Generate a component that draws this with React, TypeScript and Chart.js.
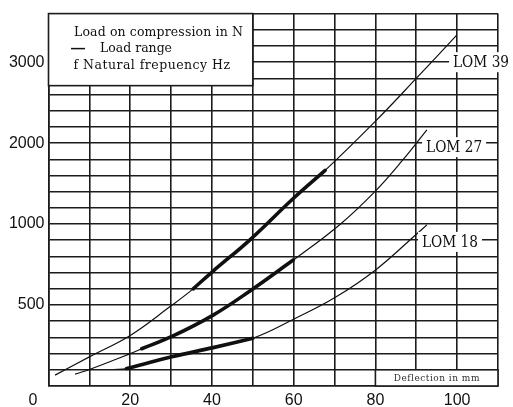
import React, { useEffect, useRef } from 'react';
import { Chart, registerables, LinearScale } from 'chart.js';

Chart.register(...registerables);

// ---- data (deflection in mm, load in N) ----
const X_LABELED = [0, 20, 40, 60, 80, 100];
const Y_TICKS = [0, 100, 200, 300, 400, 500, 600, 700, 800, 900, 1000, 1200, 1400, 1600, 1800, 2000, 2200, 2400, 2600, 2800, 3000, 3200, 3400, 3600];
const Y_LABELED = [500, 1000, 2000, 3000];

const LOM39_X = [1.6, 10, 20, 30, 35.4, 40.3, 49.3, 59.9, 67.7, 79.9, 90.1, 99.9];
const LOM39_Y = [67, 180, 312, 495, 600, 710, 903, 1316, 1663, 2265, 2805, 3334];
const LOM39_RANGE_X = [35.4, 40.3, 49.3, 59.9, 67.7];
const LOM39_RANGE_Y = [600, 710, 903, 1316, 1663];

const LOM27_X = [6.5, 10, 20, 22.8, 30.2, 40.3, 49.3, 61.2, 71.4, 79.8, 86.5, 92.6];
const LOM27_Y = [73, 102, 200, 230, 306, 438, 587, 801, 999, 1398, 1780, 2165];
const LOM27_RANGE_X = [22.8, 30.2, 40.3, 49.3, 59.9];
const LOM27_RANGE_Y = [230, 306, 438, 587, 778];

const LOM18_X = [15.9, 19.1, 30.2, 40.3, 50, 60.1, 70.1, 80.2, 90.1, 92.6];
const LOM18_Y = [102, 108, 180, 237, 295, 414, 546, 720, 939, 995];
const LOM18_RANGE_X = [19.1, 30.2, 40.3, 50];
const LOM18_RANGE_Y = [108, 180, 237, 295];

const SERIES_NAMES = ['LOM 39', 'LOM 27', 'LOM 18'];
const LABEL_POS_X = [99, 92.4, 91.4];
const LABEL_POS_Y = [3000, 1950, 890];

const LEGEND_LINES = ['Load on compression in N', 'Load range', 'f Natural frepuency Hz'];
const X_TITLE = 'Deflection in mm';

// ---- styling ----
const GRID = '#1c1c1c';
const INK = '#111111';
const SERIF = '"DejaVu Serif", serif';

// piecewise y scale: 100 N per division up to 1000, 200 N per division above
const toDiv = (v: number) => (v <= 1000 ? v / 100 : 10 + (v - 1000) / 200);
const fromDiv = (d: number) => (d <= 10 ? d * 100 : 1000 + (d - 10) * 200);

class PiecewiseScale extends LinearScale {
  static id = 'piecewise';
  static defaults = {};
  buildTicks() {
    (this as any).start = this.min;
    (this as any).end = this.max;
    return Y_TICKS.filter((v) => v >= this.min && v <= this.max).map((v) => ({ value: v }));
  }
  getPixelForValue(value: number) {
    if (value === null || value === undefined || isNaN(value)) return NaN;
    return this.getPixelForDecimal((toDiv(value) - toDiv(this.min)) / (toDiv(this.max) - toDiv(this.min)));
  }
  getValueForPixel(pixel: number) {
    const d = this.getDecimalForPixel(pixel);
    return fromDiv(toDiv(this.min) + d * (toDiv(this.max) - toDiv(this.min)));
  }
}
Chart.register(PiecewiseScale as any);

const pts = (xs: number[], ys: number[]) => xs.map((x, i) => ({ x, y: ys[i] }));

function fitText(ctx: CanvasRenderingContext2D, text: string, x: number, y: number, target: number) {
  (ctx as any).letterSpacing = '0px';
  const w = ctx.measureText(text).width;
  if (w < target && text.length > 1) {
    (ctx as any).letterSpacing = (target - w) / text.length + 'px';
    ctx.fillText(text, x, y);
    (ctx as any).letterSpacing = '0px';
  } else {
    ctx.fillText(text, x, y, target);
  }
}

const overlayPlugin = {
  id: 'overlay',
  afterDraw(chart: any) {
    const { ctx, chartArea } = chart;
    const xs = chart.scales.x;
    const ys = chart.scales.y;
    ctx.save();

    // legend box (top-left)
    const bl = chartArea.left;
    const bt = chartArea.top;
    const br = xs.getPixelForValue(50);
    const bb = ys.getPixelForValue(2710);
    ctx.fillStyle = '#fff';
    ctx.fillRect(bl, bt, br - bl, bb - bt);
    ctx.strokeStyle = GRID;
    ctx.lineWidth = 1.6;
    ctx.strokeRect(bl, bt, br - bl, bb - bt);

    ctx.fillStyle = INK;
    ctx.textBaseline = 'middle';
    ctx.textAlign = 'left';
    ctx.font = `12.5px ${SERIF}`;
    fitText(ctx, LEGEND_LINES[0], bl + 25.5, bt + 19, 169);
    ctx.beginPath();
    ctx.moveTo(bl + 22.5, bt + 35);
    ctx.lineTo(bl + 36.5, bt + 35);
    ctx.strokeStyle = INK;
    ctx.lineWidth = 1.5;
    ctx.stroke();
    fitText(ctx, LEGEND_LINES[1], bl + 51.5, bt + 35, 72);
    fitText(ctx, LEGEND_LINES[2], bl + 25, bt + 52, 157);

    // series labels with white background
    ctx.font = `16px ${SERIF}`;
    SERIES_NAMES.forEach((name, i) => {
      const x = xs.getPixelForValue(LABEL_POS_X[i]);
      const y = ys.getPixelForValue(LABEL_POS_Y[i]);
      const w = 56;
      ctx.fillStyle = '#fff';
      ctx.fillRect(x - 4, y - 10, w + 8, 20);
      ctx.fillStyle = INK;
      fitText(ctx, name, x, y + 1, w);
    });

    // x-axis title box (bottom-right cell row)
    const tl = xs.getPixelForValue(80);
    const tr = chartArea.right;
    const tt = ys.getPixelForValue(100);
    const tb = chartArea.bottom;
    ctx.fillStyle = '#fff';
    ctx.fillRect(tl, tt, tr - tl, tb - tt);
    ctx.strokeStyle = GRID;
    ctx.lineWidth = 1.6;
    ctx.strokeRect(tl, tt, tr - tl, tb - tt);
    ctx.fillStyle = '#333';
    ctx.font = `9px ${SERIF}`;
    ctx.textAlign = 'left';
    fitText(ctx, X_TITLE, (tl + tr) / 2 - 43, (tt + tb) / 2 + 0.5, 86);

    ctx.restore();
  },
};

export default function App() {
  const ref = useRef<HTMLCanvasElement>(null);
  useEffect(() => {
    const thin = { borderColor: INK, borderWidth: 1.2, pointRadius: 0, tension: 0.4, fill: false };
    const thick = { borderColor: INK, borderWidth: 3.6, pointRadius: 0, tension: 0.4, fill: false, borderCapStyle: 'round' as const };
    const chart = new Chart(ref.current!, {
      type: 'line',
      data: {
        datasets: [
          { label: SERIES_NAMES[0], data: pts(LOM39_X, LOM39_Y), ...thin },
          { label: SERIES_NAMES[1], data: pts(LOM27_X, LOM27_Y), ...thin },
          { label: SERIES_NAMES[2], data: pts(LOM18_X, LOM18_Y), ...thin },
          { label: SERIES_NAMES[0] + ' range', data: pts(LOM39_RANGE_X, LOM39_RANGE_Y), ...thick },
          { label: SERIES_NAMES[1] + ' range', data: pts(LOM27_RANGE_X, LOM27_RANGE_Y), ...thick },
          { label: SERIES_NAMES[2] + ' range', data: pts(LOM18_RANGE_X, LOM18_RANGE_Y), ...thick },
        ],
      },
      options: {
        animation: false,
        responsive: false,
        devicePixelRatio: 1,
        events: [],
        layout: { padding: { top: 10, right: 15, left: 0, bottom: 0 } },
        plugins: { legend: { display: false }, tooltip: { enabled: false }, title: { display: false } },
        scales: {
          x: {
            type: 'linear',
            min: 0,
            max: 110,
            afterFit: (s: any) => { s.height = 21; },
            ticks: {
              stepSize: 10,
              autoSkip: false,
              maxRotation: 0,
              padding: 5,
              color: INK,
              font: { family: '"Liberation Sans", Arial, sans-serif', size: 16 },
              callback: (v: any) => (X_LABELED.includes(v) ? (v === 0 ? '0       ' : String(v)) : ''),
            },
            grid: { color: GRID, lineWidth: 1.6, drawTicks: false },
            border: { display: true, color: GRID, width: 1.6 },
          },
          y: {
            type: 'piecewise' as any,
            min: 0,
            max: 3600,
            afterFit: (s: any) => { s.width = 48.5; },
            ticks: {
              autoSkip: false,
              padding: 4,
              color: INK,
              font: { family: '"Liberation Sans", Arial, sans-serif', size: 16 },
              callback: (v: any) => (Y_LABELED.includes(v) ? String(v) : ''),
            },
            grid: { color: GRID, lineWidth: 1.6, drawTicks: false },
            border: { display: true, color: GRID, width: 1.6 },
          },
        },
      },
      plugins: [overlayPlugin],
    } as any);
    return () => chart.destroy();
  }, []);
  return (
    <div style={{ position: 'absolute', left: 0, top: 0, width: 513, height: 407, background: '#fff' }}>
      <canvas ref={ref} width={513} height={407} style={{ display: 'block', width: 513, height: 407 }} />
    </div>
  );
}
